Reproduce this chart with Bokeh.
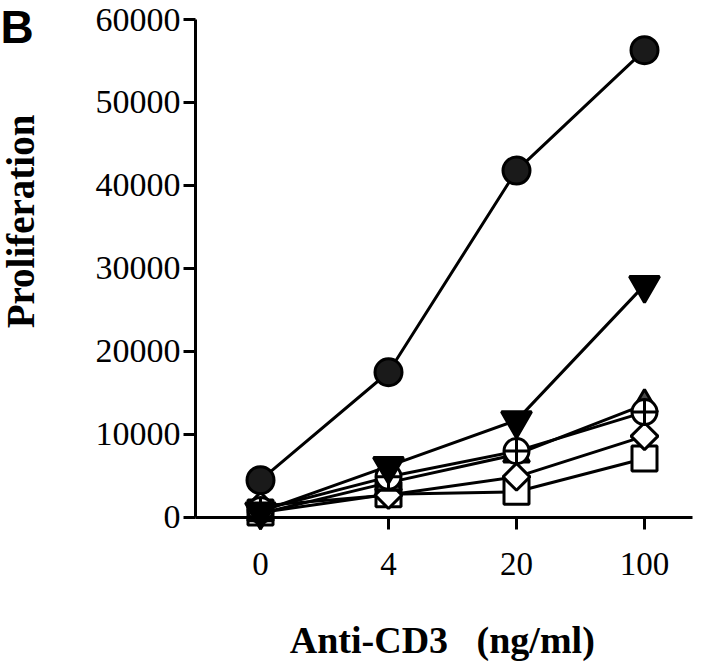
from bokeh.plotting import figure
from bokeh.models import Range1d, Label, FixedTicker
from bokeh.embed import file_html
from bokeh.resources import INLINE
import math

# ---- data ----
doses = ["0", "4", "20", "100"]
circle_filled = [4500, 17500, 41800, 56300]
tri_down = [700, 6200, 11700, 28000]
tri_up = [500, 4200, 7600, 13600]
circle_cross = [900, 4900, 8000, 12700]
diamond_open = [1400, 2700, 4900, 9800]
square_open = [600, 2800, 3100, 7100]
y_ticks = [0, 10000, 20000, 30000, 40000, 50000, 60000]

xs = list(range(len(doses)))

# frame covers the whole canvas; axes are pinned inside it
X0, X1 = -2.03125, 3.53125
Y0, Y1 = -17470, 62289
AX_LEFT, AX_RIGHT = -0.5078, 3.375

p = figure(width=712, height=662, output_backend="svg", toolbar_location=None,
           x_range=Range1d(X0, X1), y_range=Range1d(Y0, Y1),
           min_border=0, min_border_left=0, min_border_right=0,
           min_border_top=0, min_border_bottom=0)
p.outline_line_color = None
p.grid.visible = False
p.background_fill_color = "white"
p.border_fill_color = "white"

serif = "Liberation Serif"
for ax in (p.xaxis[0], p.yaxis[0]):
    ax.axis_line_width = 3
    ax.major_tick_line_width = 3
    ax.major_tick_in = 0
    ax.major_tick_out = 12
    ax.minor_tick_line_color = None
    ax.major_label_text_font = serif
    ax.major_label_text_font_size = "34px"
    ax.major_label_text_color = "black"
    ax.axis_line_color = "black"
    ax.major_tick_line_color = "black"

p.xaxis.fixed_location = 0
p.xaxis.bounds = (AX_LEFT, AX_RIGHT)
p.xaxis.ticker = FixedTicker(ticks=xs)
p.xaxis.major_label_overrides = {i: d for i, d in enumerate(doses)}
p.xaxis.major_label_standoff = 24
p.xaxis.major_label_text_font_size = "33px"

p.yaxis.fixed_location = AX_LEFT
p.yaxis.bounds = (0, 60000)
p.yaxis.ticker = FixedTicker(ticks=y_ticks)
p.yaxis.formatter.use_scientific = False
p.yaxis.major_label_standoff = 3

lw = 3
series = [
    (square_open, "square", 25, "white", None),
    (diamond_open, "square", 19, "white", math.pi / 4),
    (tri_up, "triangle", 26, "#4a4a4a", None),
    (circle_cross, "circle_cross", 25, "white", None),
    (tri_down, "inverted_triangle", 30, "black", None),
    (circle_filled, "circle", 27, "#1a1a1a", None),
]
for ys, *_ in series:
    p.line(xs, ys, line_color="black", line_width=lw)
for ys, marker, size, fill, ang in series:
    kw = {}
    if ang is not None:
        kw["angle"] = ang
    p.scatter(xs, ys, marker=marker, size=size, fill_color=fill,
              line_color="black", line_width=lw, **kw)

p.add_layout(Label(x=1.42, y=-14819, text="Anti-CD3\u00a0\u00a0\u00a0(ng/ml)",
                   text_font=serif, text_font_style="bold", text_font_size="38px",
                   text_align="center", text_baseline="middle", text_color="black"))
p.add_layout(Label(x=-1.875, y=35663, text="Proliferation", angle=math.pi / 2,
                   text_font=serif, text_font_style="bold", text_font_size="39px",
                   text_align="center", text_baseline="alphabetic", text_color="black"))
p.add_layout(Label(x=X0, y=Y1, text="B", text_font="Liberation Sans",
                   text_font_style="bold", text_font_size="46px",
                   text_align="left", text_baseline="top", text_color="black"))

open("out.html", "w").write(file_html(p, INLINE))
